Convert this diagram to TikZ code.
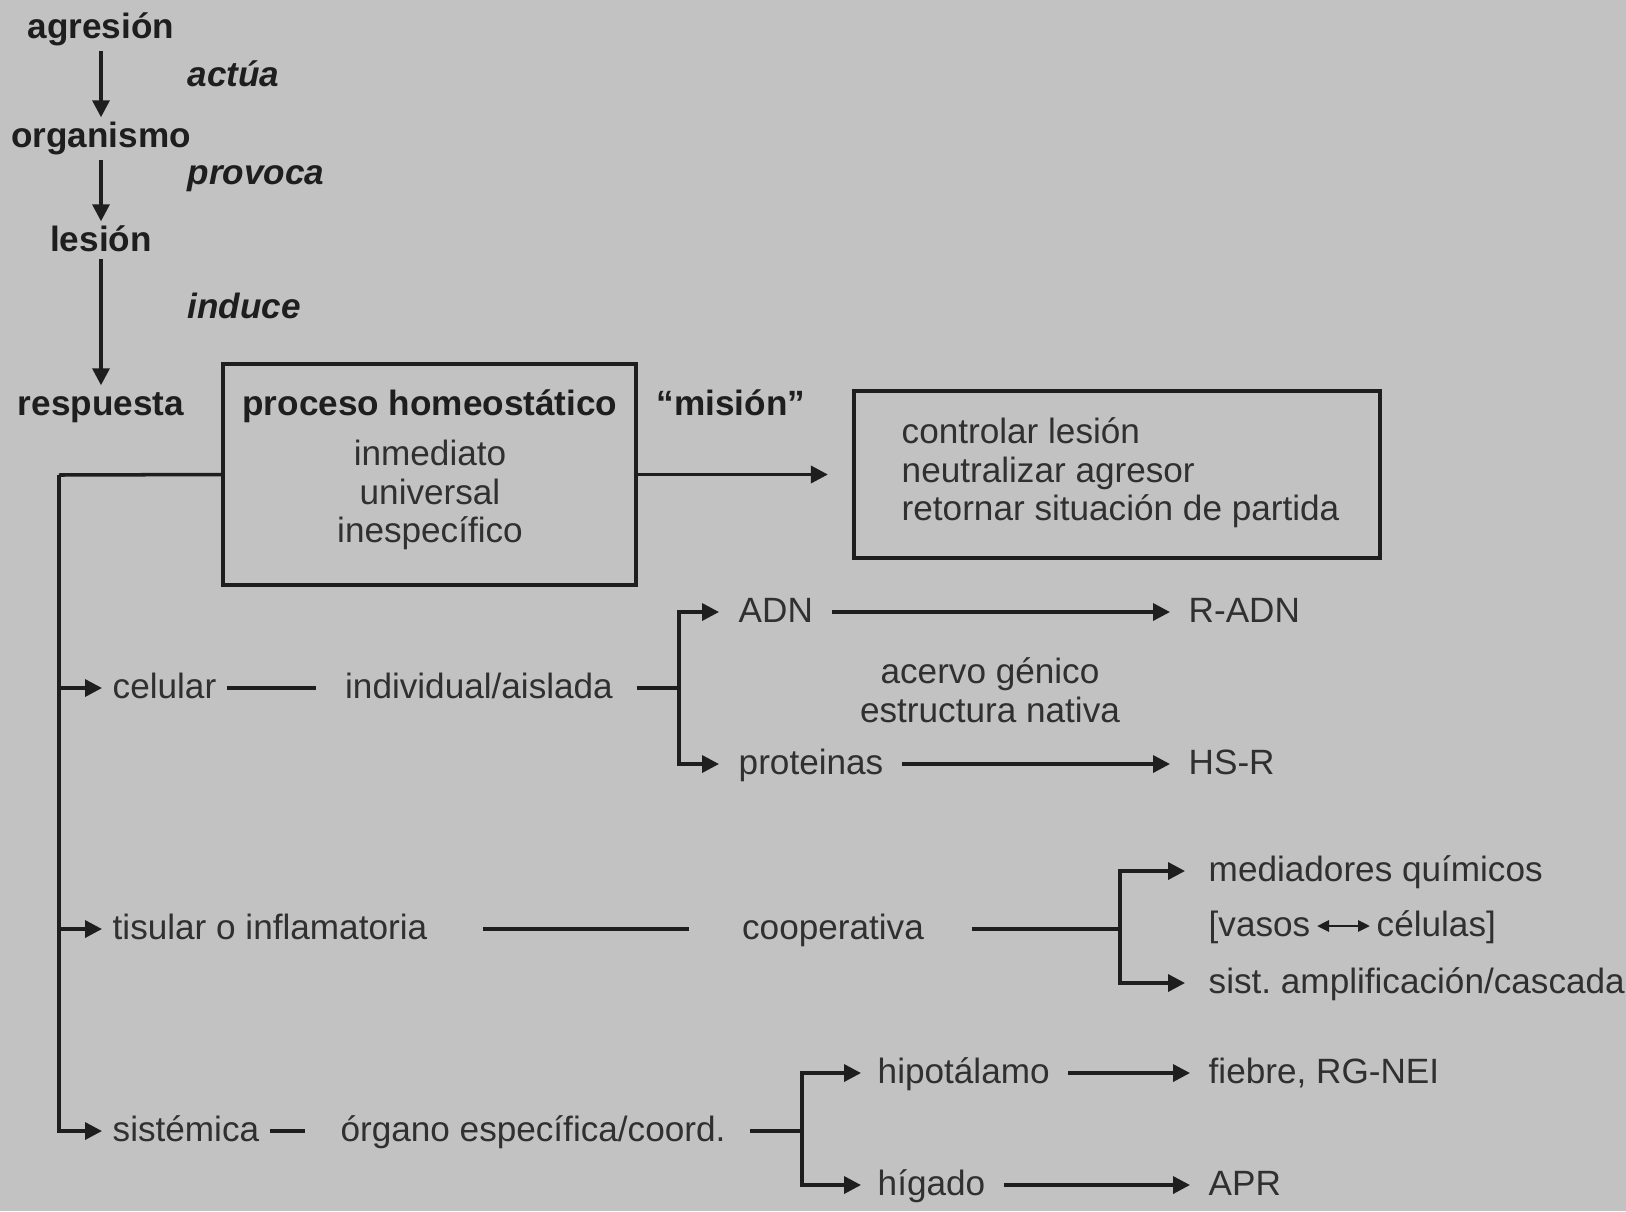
\documentclass[tikz,border=0pt]{standalone}
\usepackage{fontspec}
\setmainfont{Liberation Sans}
\usetikzlibrary{arrows.meta,positioning,calc}

\begin{document}
\frenchspacing
\begin{tikzpicture}[
    >={Triangle[length=1.7mm,width=1.7mm]}, font=\fontsize{10}{11}\selectfont,
    lbl/.style={text=txt,inner xsep=1mm,inner ysep=0.8mm,text height=1.6ex,text depth=0.45ex},
    lft/.style={lbl,anchor=west},
    blk/.style={text=txt,inner xsep=1mm,inner ysep=0.8mm},
    hdr/.style={lbl,text=ink,font=\fontsize{10}{11}\selectfont\bfseries},
    verb/.style={hdr,anchor=west,font=\fontsize{10}{11}\selectfont\bfseries\itshape},
    box/.style={draw=ink,line width=1.2pt},
    link/.style={draw=ink,line width=1pt},
    arr/.style={link,->,shorten <=0.08cm,shorten >=0.08cm},
    down/.style={link,->,shorten <=-0.05cm,shorten >=-0.08cm},
]
\definecolor{bggray}{RGB}{194,194,194}
\definecolor{ink}{RGB}{30,30,30}
\definecolor{txt}{RGB}{48,48,48}

% page and grey ground
\useasboundingbox (0,0) rectangle (16.26,12.11);
\fill[bggray] (0,0) rectangle (16.26,12.11);

% x of the right-hand result column
\def\tx{11.98}

% ================= chain: agresion -> respuesta =================
\node[hdr] (agr) at (1.01,11.83) {agresión};
\node[hdr] (orgm) at (1.01,10.74) {organismo};
\node[hdr] (les) at (1.01,9.70) {lesión};
\node[hdr] (resp) at (1.01,8.06) {respuesta};
\node[verb] (act) at (1.77,11.35) {actúa};
\node[verb] (prov) at (1.77,10.37) {provoca};
\node[verb] (indu) at (1.77,9.03) {induce};
\draw[down] (agr) -- (orgm);
\draw[down] (orgm) -- (les);
\draw[down,shorten <=-0.1cm] (les) -- (resp);

% ================= homeostatic process and its mission =================
\node[box,minimum width=4.13cm,minimum height=2.21cm] (hom) at (4.295,7.365) {};
\node[hdr] (homt) at (4.30,8.06) {proceso homeostático};
\node[blk,align=center] (homl) at (4.30,7.16) {inmediato\\universal\\inespecífico};
\node[hdr] (misl) at (7.31,8.06) {“misión”};
\node[box,minimum width=5.26cm,minimum height=1.67cm] (mis) at (11.17,7.365) {};
\node[blk,anchor=west,align=left] (mist) at (8.91,7.38) {controlar lesión\\neutralizar agresor\\retornar situación de partida};
\draw[link,->,shorten >=0.24cm] (hom) -- (mis);

% trunk down the left side
\coordinate (trk) at (0.59,7.36);
\draw[link] (hom.west) -- (trk);

% ================= celular =================
\node[lft] (cel) at (1.02,5.23) {celular};
\node[lbl] (indi) at (4.79,5.23) {individual/aislada};
\coordinate (fk1) at (6.79,5.23);
\node[lft] (adn) at (7.28,5.99) {ADN};
\node[lft] (radn) at (11.78,5.99) {R-ADN};
\node[lft] (prot) at (7.28,4.47) {proteinas};
\node[lft] (hsr) at (11.78,4.47) {HS-R};
\node[blk,align=center] (acer) at (9.90,5.21) {acervo génico\\estructura nativa};
\draw[link,->] (trk) |- (cel);
\draw[link,shorten >=0.18cm] (cel) -- (indi);
\draw[link,shorten <=0.13cm] (indi) -- (fk1);
\draw[link,->,shorten >=0.09cm] (fk1) |- (adn);
\draw[link,->,shorten >=0.09cm] (fk1) |- (prot);
\draw[arr] (adn) -- (radn);
\draw[arr] (prot) -- (hsr);

% ================= tisular =================
\node[lft] (tis) at (1.02,2.82) {tisular o inflamatoria};
\node[lbl] (coop) at (8.33,2.82) {cooperativa};
\coordinate (fk2) at (11.20,2.82);
\node[lft] (med) at (\tx,3.40) {mediadores químicos};
\node[lft] (vas) at (\tx,2.85) {[vasos};
\node[lft] (cels) at (13.66,2.85) {células]};
\node[lft] (amp) at (\tx,2.28) {sist. amplificación/cascada};
\draw[link,->] (trk) |- (tis);
\draw[link,shorten <=0.45cm,shorten >=0.42cm] (tis) -- (coop);
\draw[link,shorten <=0.37cm] (coop) -- (fk2);
\draw[link,->,shorten >=0.13cm] (fk2) |- (med);
\draw[link,->,shorten >=0.13cm] (fk2) |- (amp);
\draw[link,line width=0.8pt,shorten <=-0.04cm,shorten >=-0.04cm,{Triangle[length=1.2mm,width=1.1mm]}-{Triangle[length=1.2mm,width=1.1mm]}] (vas) -- (cels);

% ================= sistemica =================
\node[lft] (sis) at (1.02,0.80) {sistémica};
\node[lbl] (orgn) at (5.33,0.80) {órgano específica/coord.};
\coordinate (fk3) at (8.02,0.80);
\node[lft] (hip) at (8.67,1.38) {hipotálamo};
\node[lft] (hig) at (8.67,0.26) {hígado};
\node[lft] (fieb) at (\tx,1.38) {fiebre, RG-NEI};
\node[lft] (apr) at (\tx,0.26) {APR};
\draw[link,->] (trk) |- (sis);
\draw[link,shorten >=0.25cm] (sis) -- (orgn);
\draw[link,shorten <=0.14cm] (orgn) -- (fk3);
\draw[link,->,shorten >=0.06cm] (fk3) |- (hip);
\draw[link,->,shorten >=0.06cm] (fk3) |- (hig);
\draw[arr] (hip) -- (fieb);
\draw[arr] (hig) -- (apr);

\end{tikzpicture}
\end{document}
